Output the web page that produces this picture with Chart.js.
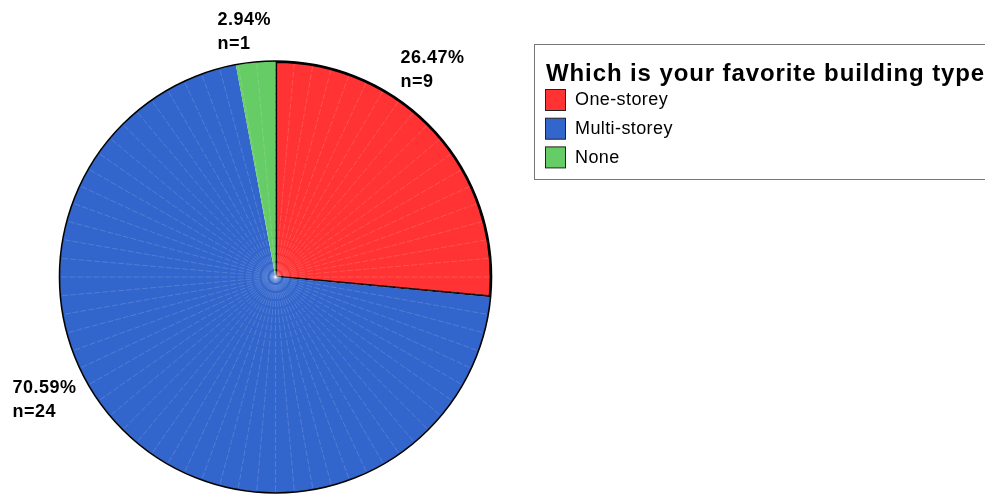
<!DOCTYPE html>
<html>
<head>
<meta charset="utf-8">
<script src="https://cdn.jsdelivr.net/npm/chart.js@4.4.0/dist/chart.umd.min.js"></script>
<style>
  html, body { margin: 0; padding: 0; background: #fff; }
  #wrap { width: 985px; height: 495px; position: relative; }
</style>
</head>
<body>
<div id="wrap"><canvas id="pie"></canvas></div>
<script>
// building type survey
const categories = ['One-storey', 'Multi-storey', 'None'];
const counts = [9, 24, 1];
const sliceColors = ['#FF3333', '#3366CC', '#66CC66'];
const legendTitle = 'Which is your favorite building type';

const total = counts.reduce((a, b) => a + b, 0);

// label anchor (left, baseline of first line) relative to pie centre
const labelSpots = [
  { dx: 125, dy: -214 },
  { dx: -263, dy: 116 },
  { dx: -58, dy: -252 },
];

// faint radial lines + black outline
const pieDecor = {
  id: 'pieDecor',
  afterDatasetsDraw(chart) {
    const arcs = chart.getDatasetMeta(0).data;
    if (!arcs.length) return;
    const { x, y, outerRadius } = arcs[0];
    const ctx = chart.ctx;
    ctx.save();
    ctx.beginPath();
    ctx.arc(x, y, outerRadius, 0, Math.PI * 2);
    ctx.clip();
    ctx.strokeStyle = 'rgba(255,255,255,0.15)';
    ctx.lineWidth = 1;
    ctx.setLineDash([6, 2]);
    for (let a = 0; a < 360; a += 5) {
      const t = (a - 90) * Math.PI / 180;
      ctx.beginPath();
      ctx.moveTo(x, y);
      ctx.lineTo(x + Math.cos(t) * outerRadius, y + Math.sin(t) * outerRadius);
      ctx.stroke();
    }
    ctx.restore();

    ctx.save();
    ctx.strokeStyle = '#000';
    ctx.lineWidth = 1.6;
    ctx.beginPath();
    ctx.arc(x, y, outerRadius, 0, Math.PI * 2);
    ctx.stroke();

    // percentage / count labels
    ctx.fillStyle = '#000';
    ctx.font = 'bold 18px "Liberation Sans", Arial, sans-serif';
    ctx.letterSpacing = '0.5px';
    ctx.textBaseline = 'alphabetic';
    ctx.textAlign = 'left';
    counts.forEach((n, i) => {
      const pct = (n / total * 100).toFixed(2) + '%';
      const lx = x + labelSpots[i].dx;
      const ly = y + labelSpots[i].dy;
      ctx.fillText(pct, lx, ly);
      ctx.fillText('n=' + n, lx, ly + 24);
    });
    ctx.restore();
  }
};

// boxed legend on the right
const boxLegend = {
  id: 'boxLegend',
  afterDraw(chart) {
    const ctx = chart.ctx;
    const left = 534, top = 44, bottom = 179;
    ctx.save();
    ctx.strokeStyle = '#777';
    ctx.lineWidth = 1;
    ctx.strokeRect(left + 0.5, top + 0.5, 600, bottom - top);
    ctx.fillStyle = '#000';
    ctx.font = 'bold 24px "Liberation Sans", Arial, sans-serif';
    ctx.letterSpacing = '0.9px';
    ctx.textBaseline = 'alphabetic';
    ctx.fillText(legendTitle, 546, 81);
    ctx.font = '18px "Liberation Sans", Arial, sans-serif';
    ctx.letterSpacing = '0.4px';
    ctx.textBaseline = 'middle';
    categories.forEach((c, i) => {
      const yy = 89 + i * 28.7;
      ctx.fillStyle = sliceColors[i];
      ctx.fillRect(545.5, yy + 0.5, 20, 21);
      ctx.strokeStyle = '#222';
      ctx.strokeRect(545.5, yy + 0.5, 20, 21);
      ctx.fillStyle = '#000';
      ctx.fillText(c, 575, yy + 11.5);
    });
    ctx.restore();
  }
};

new Chart(document.getElementById('pie'), {
  type: 'pie',
  plugins: [pieDecor, boxLegend],
  data: {
    labels: categories,
    datasets: [{
      data: counts,
      backgroundColor: sliceColors,
      borderColor: ['#000', sliceColors[1], sliceColors[2]],
      borderWidth: [1.6, 0, 0],
      borderAlign: 'inner',
    }]
  },
  options: {
    responsive: true,
    maintainAspectRatio: false,
    animation: false,
    layout: { padding: { left: 59, top: 61, right: 493, bottom: 2 } },
    plugins: {
      legend: { display: false },
      tooltip: { enabled: false },
    },
  },
});
</script>
</body>
</html>
